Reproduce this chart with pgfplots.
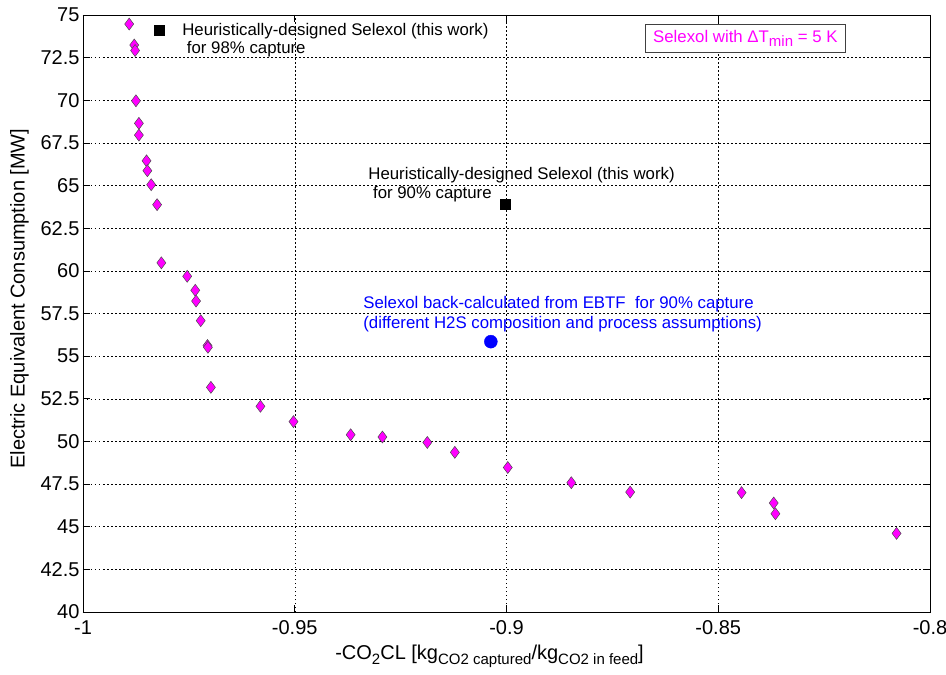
\documentclass[border=0pt]{standalone}
\usepackage{fontspec}
\setmainfont{Liberation Sans}
\usepackage{pgfplots}
\pgfplotsset{compat=1.18}
\definecolor{mag}{RGB}{255,0,255}
\newcommand\sub[1]{\raisebox{-0.45ex}{\fontsize{15}{15}\selectfont #1}}
\newcommand\ann{\fontsize{16.8}{19}\selectfont}
\begin{document}
\begin{tikzpicture}
\begin{axis}[
 scale only axis, width=847pt, height=597pt,
 xmin=-1, xmax=-0.8, ymin=40, ymax=75,
 xtick={-1,-0.95,-0.9,-0.85,-0.8},
 xticklabels={-1,-0.95,-0.9,-0.85,-0.8},
 ytick={40,42.5,45,47.5,50,52.5,55,57.5,60,62.5,65,67.5,70,72.5,75},
 yticklabels={40,42.5,45,47.5,50,52.5,55,57.5,60,62.5,65,67.5,70,72.5,75},
 tick label style={font=\fontsize{20}{20}\selectfont},
 xticklabel style={yshift=-5pt},
 grid=major,
 major grid style={black, line width=0.5pt, dash pattern=on 1.5pt off 2.5pt},
 tick align=inside, major tick length=7pt,
 tick style={black, line width=0.6pt},
 axis line style={black, line width=0.8pt},
 xlabel={-CO\sub{2}CL [kg\sub{CO2 captured}/kg\sub{CO2 in feed}]},
 ylabel={Electric Equivalent Consumption [MW]},
 every axis x label/.style={at={(axis description cs:0.48,-0.074)}, anchor=center, font=\fontsize{20}{22}\selectfont},
 every axis y label/.style={at={(axis description cs:-0.075,0.525)}, anchor=center, rotate=90, font=\fontsize{20}{22}\selectfont},
 clip=false,
]
\addplot[only marks, mark=diamond*, mark size=6pt, mark options={fill=mag, draw=black!70, line width=0.5pt}] coordinates {
(-0.9891,74.47)
(-0.9879,73.24)
(-0.9877,72.92)
(-0.9875,69.97)
(-0.9868,68.65)
(-0.9868,67.96)
(-0.9850,66.45)
(-0.9848,65.87)
(-0.9839,65.05)
(-0.9825,63.88)
(-0.9815,60.47)
(-0.9754,59.68)
(-0.9735,58.86)
(-0.9733,58.23)
(-0.9722,57.08)
(-0.9706,55.62)
(-0.9705,55.52)
(-0.9698,53.17)
(-0.9581,52.06)
(-0.9503,51.16)
(-0.9368,50.39)
(-0.9293,50.26)
(-0.9187,49.94)
(-0.9122,49.36)
(-0.8997,48.47)
(-0.8847,47.58)
(-0.8708,47.03)
(-0.8445,47.00)
(-0.8369,46.39)
(-0.8365,45.76)
(-0.8079,44.61)
};
\addplot[only marks, mark=square*, mark size=5pt, mark options={fill=black, draw=black}] coordinates {(-0.9821,74.13) (-0.9003,63.92)};
\addplot[only marks, mark=*, mark size=6.5pt, mark options={fill=blue, draw=blue}] coordinates {(-0.9037,55.85)};
\node[anchor=west, inner sep=0pt, font=\ann] at (axis cs:-0.9766,74.06) {Heuristically-designed Selexol (this work)};
\node[anchor=west, inner sep=0pt, font=\ann] at (axis cs:-0.9766,73.0) {\ for 98\% capture};
\node[anchor=west, inner sep=0pt, font=\ann] at (axis cs:-0.93265,65.62) {Heuristically-designed Selexol (this work)};
\node[anchor=west, inner sep=0pt, font=\ann] at (axis cs:-0.93265,64.50) {\ for 90\% capture};
\node[anchor=west, inner sep=0pt, font=\ann, text=blue] at (axis cs:-0.93384,58.05) {Selexol back-calculated from EBTF\ \ for 90\% capture};
\node[anchor=west, inner sep=0pt, font=\ann, text=blue] at (axis cs:-0.93384,56.88) {(different H2S composition and process assumptions)};
\node[draw=black!75, fill=white, text=mag, inner xsep=8pt, inner ysep=6pt, line width=0.6pt, font=\ann] at (axis cs:-0.8436,73.62) {Selexol with ΔT\sub{min} = 5 K};
\end{axis}
\pgfresetboundingbox
\path (current axis.south west) ++(-83pt,-62pt) coordinate (bl);
\path (current axis.north east) ++(16pt,15pt) coordinate (tr);
\useasboundingbox (bl) rectangle (tr);
\end{tikzpicture}
\end{document}
